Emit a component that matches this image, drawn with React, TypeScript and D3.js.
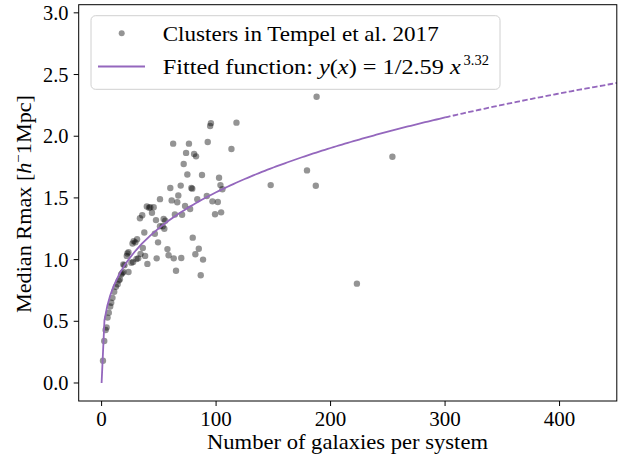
import React from "react";
import * as d3 from "d3";

// Cluster sample: number of member galaxies and median Rmax
const galaxyCounts: number[] = [
  1.2, 2.3, 3.5, 4.4, 5.2, 6.3, 7.5, 8.4, 9.5, 11, 12.5, 14, 15, 16, 17, 18, 19, 23.5, 20, 19,
  26, 27.5, 22, 22.5, 23.5, 30.5, 32, 34, 38, 40, 27, 28, 29.5, 31, 36, 37.3, 46.5, 49.3, 33.5, 35.5,
  39.5, 41.5, 42.5, 44, 45.5, 47.5, 51, 53.4, 54.8, 54.2, 55.6, 51, 48.1, 57.5, 58.5, 63, 65, 69.6, 60, 61.2,
  62.5, 64, 66.1, 67, 69.1, 70.3, 71.7, 72.9, 73.8, 74.9, 76.3, 77.3, 78.4, 79.2, 79.6, 80.8, 82.5, 81.9, 83.6, 84.9,
  86.6, 87.7, 88.6, 91.9, 92.7, 94.8, 95.5, 96.8, 99.1, 101.5, 102.6, 103.8, 104.4, 105.5, 113.4, 117.8, 147.7, 179.4, 187.1, 187.8,
  223, 254,
];
const medianRmax: number[] = [
  0.18, 0.34, 0.43, 0.45, 0.53, 0.57, 0.62, 0.65, 0.69, 0.74, 0.78, 0.8, 0.83, 0.84, 0.88, 0.89, 0.9, 0.9, 0.955, 0.96,
  0.975, 0.98, 1.03, 1.05, 1.06, 1.005, 1.01, 1.045, 1.03, 0.965, 1.13, 1.15, 1.14, 1.165, 1.095, 1.22, 1.21, 1.14, 1.335, 1.36,
  1.43, 1.42, 1.425, 1.38, 1.425, 1.32, 1.27, 1.27, 1.25, 1.33, 1.315, 1.49, 1.01, 1.085, 1.035, 1.01, 0.91, 1.013, 1.58, 1.48,
  1.94, 1.365, 1.465, 1.52, 1.6, 1.364, 1.775, 1.435, 1.865, 1.69, 1.94, 1.41, 1.58, 1.575, 1.178, 1.856, 1.837, 1.043, 1.49, 1.088,
  0.873, 1.686, 1.0, 1.515, 1.953, 2.083, 2.106, 1.472, 1.367, 1.467, 1.664, 1.604, 1.383, 1.57, 1.896, 2.11, 1.604, 1.723, 1.599, 2.32,
  0.805, 1.834,
];

// Power-law fit: y = x^(1/3.32) / 2.59
const fitScale = 2.59;
const fitExponent = 3.32;
const fitSolidEnd = 300;
const fitDashedEnd = 450;

const xTicks = [0, 100, 200, 300, 400];
const yTicks = [0.0, 0.5, 1.0, 1.5, 2.0, 2.5, 3.0];

const W = 618;
const H = 459;
const left = 78.7;
const right = 616.8;
const top = 4.7;
const bottom = 401;

const FONT = "'Liberation Serif', 'Times New Roman', serif";
const PURPLE = "#9467bd";

export default function App() {
  const x = d3.scaleLinear().domain([-20, 450]).range([left, right]);
  const y = d3.scaleLinear().domain([-0.146, 3.066]).range([bottom, top]);

  const fit = (v: number) => Math.pow(v, 1 / fitExponent) / fitScale;
  const line = d3
    .line<number>()
    .x((v) => x(v))
    .y((v) => y(fit(v)));

  const solidXs = d3.range(0, fitSolidEnd + 0.001, 2.5);
  const dashedXs = d3.range(fitSolidEnd, fitDashedEnd + 0.001, 2.5);

  const points = galaxyCounts.map((g, i) => ({ g, r: medianRmax[i] }));

  return (
    <svg
      width={W}
      height={H}
      style={{ position: "absolute", left: 0, top: 0, background: "#fff" }}
      fontFamily={FONT}
    >
      <defs>
        <clipPath id="plot-area">
          <rect x={left} y={top} width={right - left} height={bottom - top} />
        </clipPath>
      </defs>

      <g clipPath="url(#plot-area)">
        {points.map((p, i) => (
          <circle key={i} cx={x(p.g)} cy={y(p.r)} r={3.2} fill="#000" fillOpacity={0.42} />
        ))}
        <path d={line(solidXs) || ""} fill="none" stroke={PURPLE} strokeWidth={1.8} />
        <path
          d={line(dashedXs) || ""}
          fill="none"
          stroke={PURPLE}
          strokeWidth={1.8}
          strokeDasharray="5.5,2.4"
        />
      </g>

      {/* frame */}
      <rect x={left} y={top} width={right - left} height={bottom - top} fill="none" stroke="#000" strokeWidth={1} />

      {/* x axis */}
      {xTicks.map((t) => (
        <g key={t}>
          <line x1={x(t)} x2={x(t)} y1={bottom} y2={bottom + 5} stroke="#000" strokeWidth={1} />
          <text x={x(t)} y={bottom + 25} textAnchor="middle" fontSize={21} fill="#000">
            {t}
          </text>
        </g>
      ))}
      <text
        x={207}
        y={bottom + 48}
        fontSize={21}
        fill="#000"
        textLength={281}
        lengthAdjust="spacingAndGlyphs"
      >
        Number of galaxies per system
      </text>

      {/* y axis */}
      {yTicks.map((t) => (
        <g key={t}>
          <line x1={left - 5} x2={left} y1={y(t)} y2={y(t)} stroke="#000" strokeWidth={1} />
          <text
            x={43}
            y={y(t) + 7}
            fontSize={21}
            fill="#000"
            textLength={25.5}
            lengthAdjust="spacingAndGlyphs"
          >
            {t.toFixed(1)}
          </text>
        </g>
      ))}
      <text
        transform={`translate(${31},${313}) rotate(-90)`}
        fontSize={21}
        fill="#000"
        textLength={218}
        lengthAdjust="spacingAndGlyphs"
      >
        Median Rmax [<tspan fontStyle="italic">h</tspan>
        <tspan dy={-8} fontSize={14}>−</tspan>
        <tspan dy={8}>1Mpc]</tspan>
      </text>

      {/* legend */}
      <g>
        <rect x={91} y={15.7} width={409} height={73.6} rx={4.5} fill="#fff" fillOpacity={0.8} stroke="#d0d0d0" strokeWidth={1} />
        <circle cx={121.7} cy={33.3} r={3} fill="#000" fillOpacity={0.42} />
        <text
          x={162.7}
          y={40.5}
          fontSize={21}
          fill="#000"
          textLength={276}
          lengthAdjust="spacingAndGlyphs"
        >
          Clusters in Tempel et al. 2017
        </text>
        <line x1={98} x2={145} y1={66.5} y2={66.5} stroke={PURPLE} strokeWidth={1.8} />
        <text
          x={162.7}
          y={74}
          fontSize={21}
          fill="#000"
          textLength={298}
          lengthAdjust="spacingAndGlyphs"
        >
          Fitted function: <tspan fontStyle="italic">y</tspan>(<tspan fontStyle="italic">x</tspan>) = 1/2.59{" "}
          <tspan fontStyle="italic">x</tspan>
        </text>
        <text x={463.5} y={64.5} fontSize={14.5} fill="#000">
          3.32
        </text>
      </g>
    </svg>
  );
}
